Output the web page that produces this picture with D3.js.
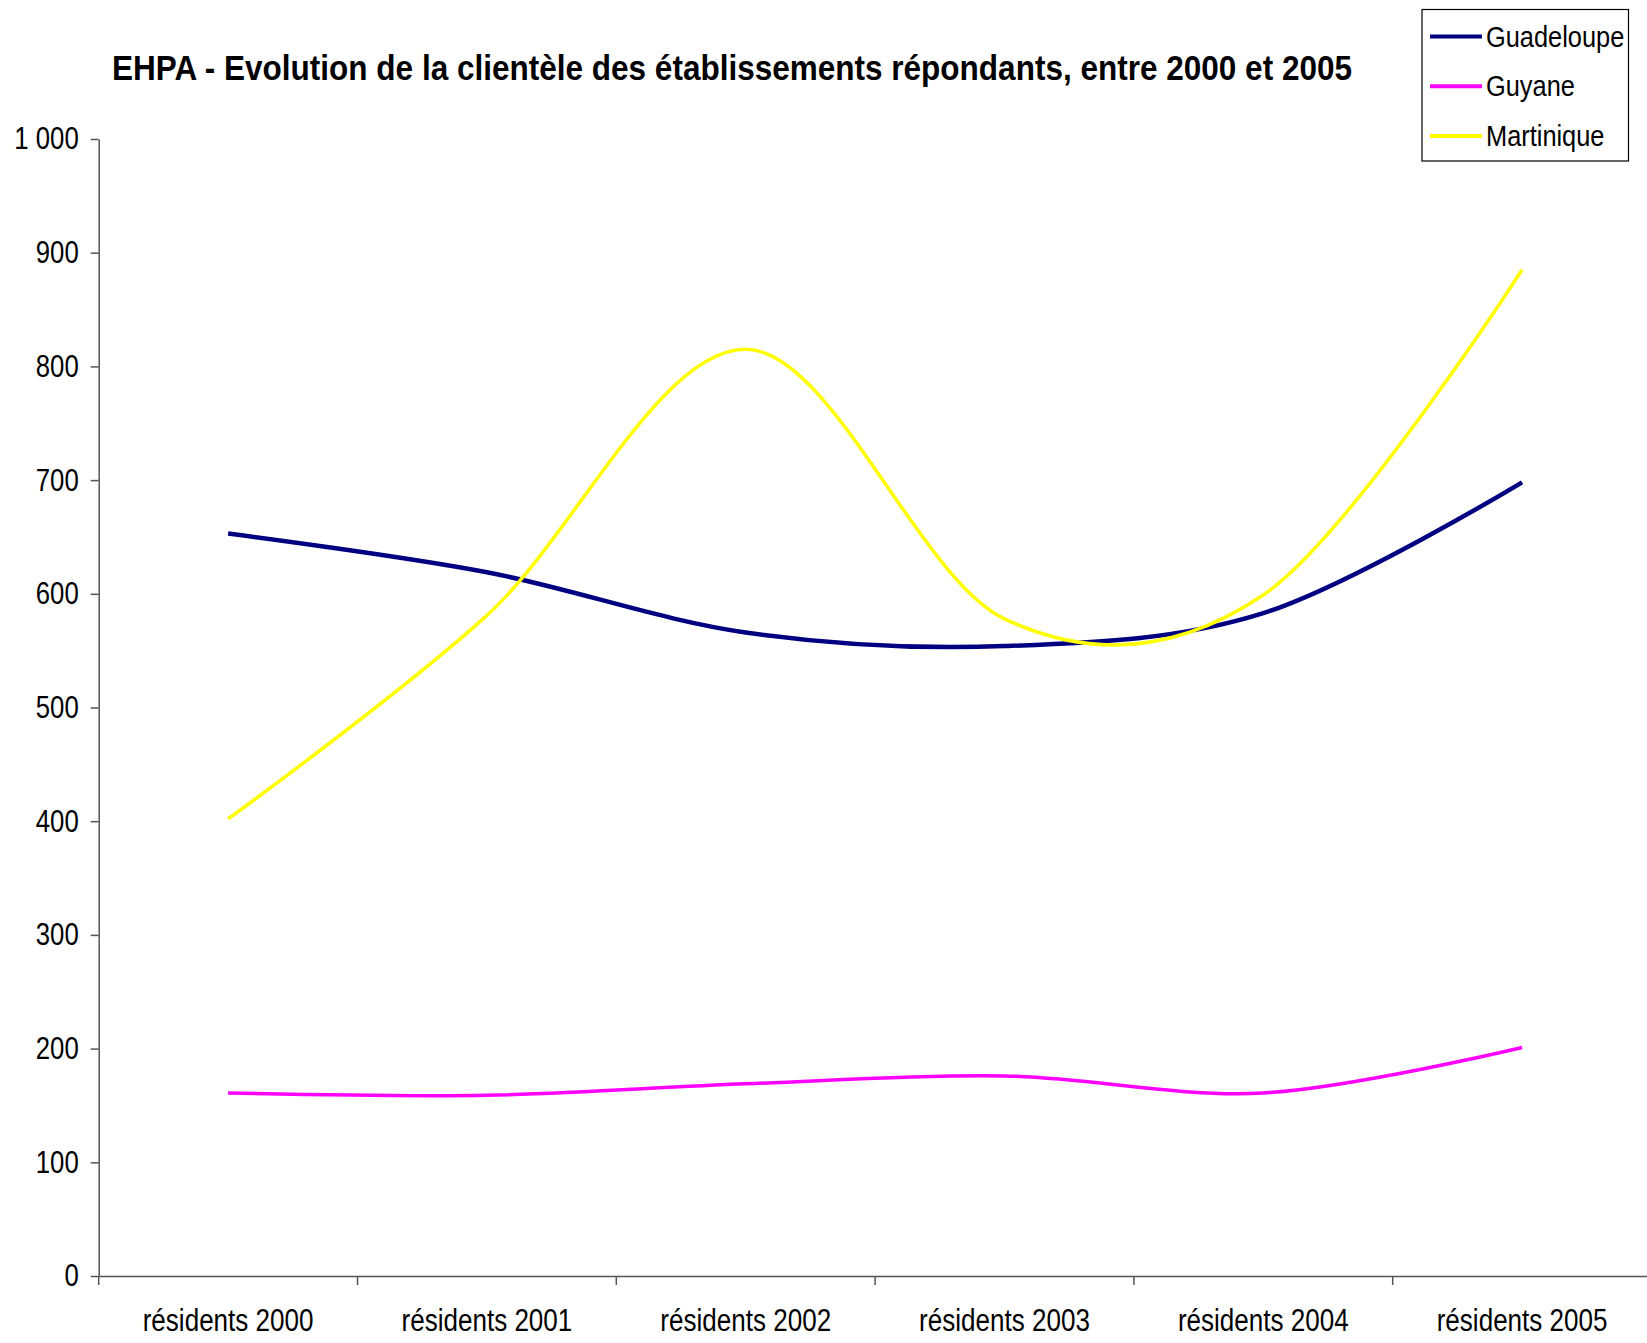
<!DOCTYPE html>
<html>
<head>
<meta charset="utf-8">
<script src="https://cdn.jsdelivr.net/npm/d3@7"></script>
<style>
    html, body { margin: 0; padding: 0; background: #fff; }
    svg { display: block; }
    text { font-family: 'Liberation Sans Narrow', 'Arial Narrow', 'Liberation Sans', sans-serif; fill: #000; }
    .axis path, .axis line { stroke: #555; stroke-width: 1.5; }
</style>
</head>
<body>
<div id="chart"></div>
<script>

var categories = ['résidents 2000', 'résidents 2001', 'résidents 2002', 'résidents 2003', 'résidents 2004', 'résidents 2005'];

var guadeloupe = [653, 619, 566, 554, 583, 698];
var guyane = [161, 159, 169, 176, 161, 201];
var martinique = [402, 581, 815, 578, 599, 885];

var yTicks = [0, 100, 200, 300, 400, 500, 600, 700, 800, 900, 1000];

var series = [
    { name: 'Guadeloupe', values: guadeloupe, color: '#000080', width: 4.5 },
    { name: 'Guyane', values: guyane, color: '#ff00ff', width: 3.5 },
    { name: 'Martinique', values: martinique, color: '#ffff00', width: 3.5 }
];

var width = 1647;
var height = 1343;
var margin = { left: 98.7, top: 139, bottom: 67 };
var step = 258.8;

var svg = d3.select('#chart')
    .append('svg')
    .attr('width', width)
    .attr('height', height);

/*
 * Squeeze text horizontally to mimic the narrow face of the original.
 */
function condense(selection, ratio) {
    selection.each(function() {
        var len = this.getComputedTextLength();
        d3.select(this)
            .attr('textLength', len * ratio)
            .attr('lengthAdjust', 'spacingAndGlyphs');
    });
}

/*
 * Scales. The category axis runs past the right edge, as in the original.
 */
var x = d3.scaleBand()
    .domain(categories)
    .range([margin.left, margin.left + step * categories.length]);

var y = d3.scaleLinear()
    .domain([0, 1000])
    .range([height - margin.bottom, margin.top]);

var fmt = d3.formatLocale({ decimal: ',', thousands: ' ', grouping: [3], currency: ['', ''] }).format(',d');

/*
 * Title.
 */
svg.append('text')
    .attr('x', 732)
    .attr('y', 80)
    .attr('text-anchor', 'middle')
    .attr('font-size', 35)
    .attr('font-weight', 'bold')
    .attr('textLength', 1240)
    .attr('lengthAdjust', 'spacingAndGlyphs')
    .text('EHPA - Evolution de la clientèle des établissements répondants, entre 2000 et 2005');

/*
 * Y axis.
 */
var yAxis = svg.append('g')
    .attr('class', 'axis y-axis')
    .attr('transform', 'translate(' + [margin.left, 0] + ')')
    .call(d3.axisLeft(y).tickValues(yTicks).tickFormat(fmt).tickSize(8).tickPadding(12).tickSizeOuter(0));

yAxis.selectAll('text')
    .attr('font-size', 31)
    .attr('font-family', null)
    .call(condense, 0.83);

/*
 * X axis: labels at band centers, ticks at band boundaries.
 */
var xAxis = svg.append('g')
    .attr('class', 'axis x-axis')
    .attr('transform', 'translate(' + [0, y(0)] + ')')
    .call(d3.axisBottom(x).tickSize(0).tickSizeOuter(0));

xAxis.selectAll('text')
    .attr('y', 55)
    .attr('dy', 0)
    .attr('font-size', 31)
    .attr('font-family', null)
    .call(condense, 0.84);

xAxis.selectAll('.bound')
    .data(categories)
    .enter()
    .append('line')
    .attr('class', 'bound')
    .attr('x1', d => x(d))
    .attr('x2', d => x(d))
    .attr('y1', 0)
    .attr('y2', 9);

/*
 * Lines, smoothed like the spreadsheet.
 */
var line = d3.line()
    .x((d, i) => x(categories[i]) + x.bandwidth() / 2)
    .y(d => y(d))
    .curve(d3.curveCardinal.tension(0));

svg.selectAll('.line')
    .data(series)
    .enter()
    .append('path')
    .attr('class', 'line')
    .attr('fill', 'none')
    .attr('stroke', d => d.color)
    .attr('stroke-width', d => d.width)
    .attr('d', d => line(d.values));

/*
 * Legend.
 */
var legend = svg.append('g')
    .attr('class', 'legend')
    .attr('transform', 'translate(1422, 9.5)');

legend.append('rect')
    .attr('width', 206.5)
    .attr('height', 151.5)
    .attr('fill', '#fff')
    .attr('stroke', '#000')
    .attr('stroke-width', 1.2);

var item = legend.selectAll('.item')
    .data(series)
    .enter()
    .append('g')
    .attr('class', 'item')
    .attr('transform', (d, i) => 'translate(0,' + (27 + i * 49.7) + ')');

item.append('line')
    .attr('x1', 8)
    .attr('x2', 60)
    .attr('stroke', d => d.color)
    .attr('stroke-width', 4);

item.append('text')
    .attr('x', 64)
    .attr('y', 10)
    .attr('font-size', 29.5)
    .text(d => d.name)
    .call(condense, 0.86);

</script>
</body>
</html>
